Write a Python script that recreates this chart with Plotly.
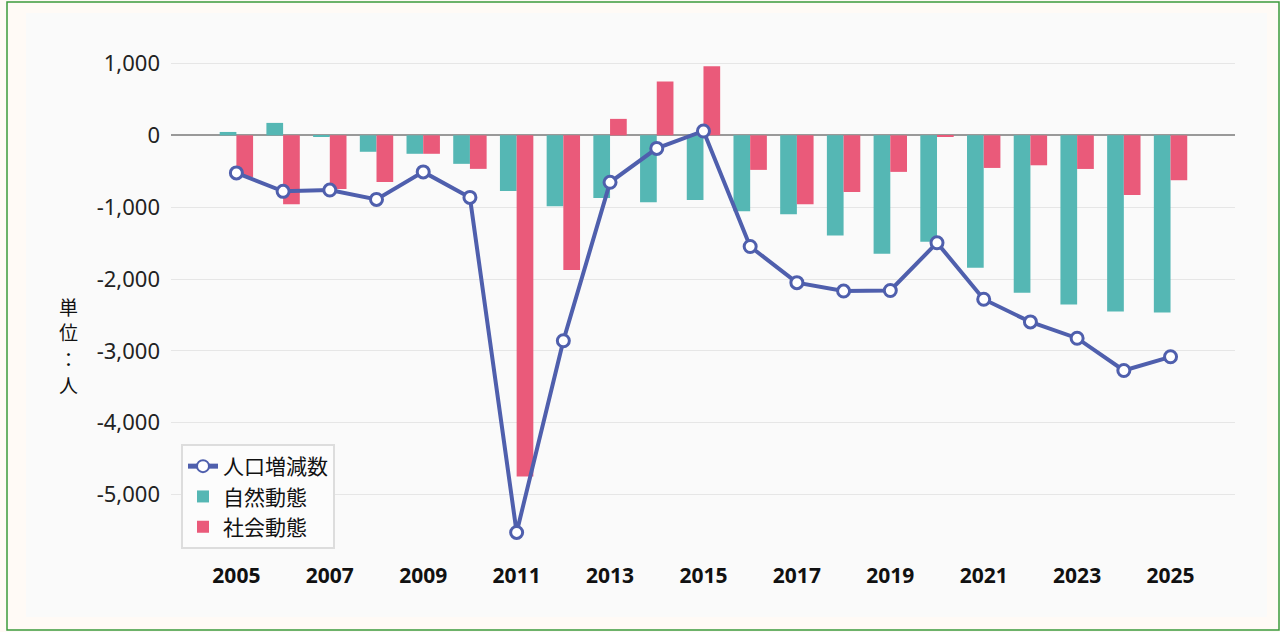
import plotly.graph_objects as go

years = list(range(2005, 2026))
# 人口増減数 (total change)
total_change = [-523, -780, -762, -892, -509, -864, -5528, -2860, -654, -182, 61,
                -1547, -2051, -2168, -2160, -1495, -2282, -2597, -2824, -3273, -3083]
# 自然動態 (natural change)
natural_change = [47, 173, -14, -229, -257, -397, -776, -986, -874, -930, -902,
                  -1056, -1098, -1393, -1648, -1481, -1843, -2190, -2356, -2454, -2468]
# 社会動態 (social change)
social_change = [-580, -958, -748, -650, -257, -467, -4750, -1874, 229, 748, 963,
                 -481, -958, -790, -509, -14, -454, -417, -468, -829, -625]

x_tick_vals = list(range(2005, 2026, 2))
y_tick_vals = [1000, 0, -1000, -2000, -3000, -4000, -5000]
y_tick_text = ["1,000", "0", "-1,000", "-2,000", "-3,000", "-4,000", "-5,000"]
y_title_chars = ["単", "位", "：", "人"]

LINE_C = "#4f5fad"
TEAL = "#55b7b4"
RED = "#ea5a7a"
FONT = "Noto Sans, Noto Sans CJK JP, sans-serif"
CJK = "Noto Sans CJK JP, Noto Sans, sans-serif"

fig = go.Figure()
fig.add_trace(go.Scatter(
    x=years, y=total_change, name="人口増減数", mode="lines+markers",
    line=dict(color=LINE_C, width=4),
    marker=dict(symbol="circle", size=12, color="white",
                line=dict(color=LINE_C, width=3)),
))
fig.add_trace(go.Bar(x=years, y=natural_change, name="自然動態",
                     marker=dict(color=TEAL, line=dict(width=0))))
fig.add_trace(go.Bar(x=years, y=social_change, name="社会動態",
                     marker=dict(color=RED, line=dict(width=0))))

W, H = 1280, 632
L, R, T, B = 171, 45, 40, 77
pw, ph = W - L - R, H - T - B

def px(xp):
    return (xp - L) / pw

def py(yp):
    return (H - B - yp) / ph

annotations = []
for i, ch in enumerate(y_title_chars):
    annotations.append(dict(
        text=ch, xref="paper", yref="paper",
        x=px(68), y=py(306 + i * 26), xanchor="center", yanchor="middle",
        showarrow=False, font=dict(family=CJK, size=19, color="#111")))

fig.update_layout(
    width=W, height=H,
    margin=dict(l=L, r=R, t=T, b=B),
    paper_bgcolor="#fffaf6",
    plot_bgcolor="rgba(0,0,0,0)",
    barmode="group", bargap=0.285, bargroupgap=0,
    font=dict(family=FONT, size=20, color="#222"),
    showlegend=True,
    legend=dict(
        x=px(181), y=py(444), xanchor="left", yanchor="top",
        bgcolor="#fcfcfc", bordercolor="#dddddd", borderwidth=2,
        font=dict(family=CJK, size=21, color="#111"),
        tracegroupgap=0, itemsizing="constant",
    ),
    xaxis=dict(
        range=[2003.6, 2026.38], tickvals=x_tick_vals, tickformat="d",
        showgrid=False, zeroline=False, showline=False, ticks="",
        tickfont=dict(family=FONT, size=21, color="#111", weight="bold"),
        ticklabelstandoff=6,
    ),
    yaxis=dict(
        range=[-5842, 1327], tickvals=y_tick_vals, ticktext=y_tick_text,
        showgrid=True, gridcolor="#e6e6e6", gridwidth=1,
        zeroline=True, zerolinecolor="#999999", zerolinewidth=2,
        showline=False, ticks="",
        tickfont=dict(family=FONT, size=22, color="#222"),
        ticklabelstandoff=10,
    ),
    shapes=[
        dict(type="rect", xref="paper", yref="paper", layer="below",
             x0=px(26), x1=px(1267), y0=py(617), y1=py(13),
             fillcolor="#fafafa", line=dict(width=0)),
        dict(type="rect", xref="paper", yref="paper", layer="above",
             x0=px(7), x1=px(1279), y0=py(630), y1=py(2),
             fillcolor="rgba(0,0,0,0)", line=dict(color="#3c9a3c", width=1.5)),
    ],
    annotations=annotations,
)

fig.write_html("out.html",
               config={"displayModeBar": False},
               post_script="document.body.style.margin='0';document.body.style.overflow='hidden';")
